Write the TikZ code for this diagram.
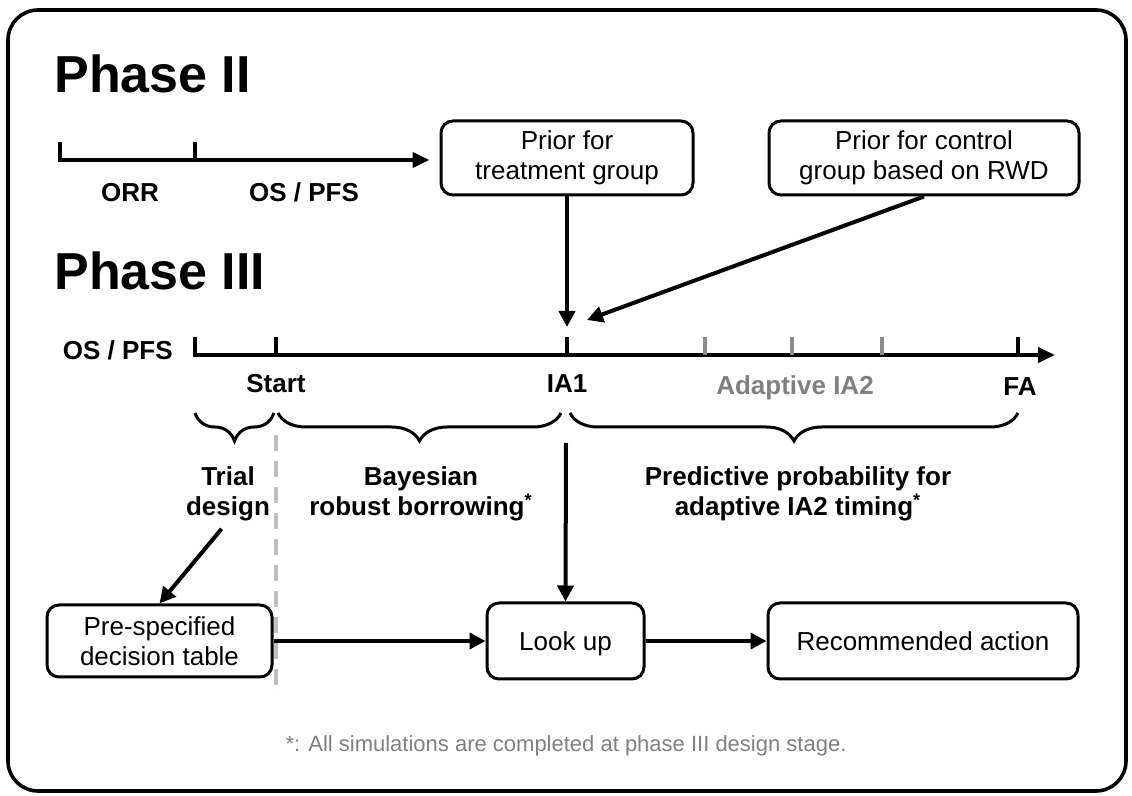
\documentclass[tikz,border=0pt]{standalone}
\usepackage{fontspec}
\setmainfont{Liberation Sans}
\usepackage{tikz}
\usetikzlibrary{arrows.meta, positioning, decorations.pathreplacing, calc}
\definecolor{trait}{HTML}{000000}
\definecolor{grisaxe}{HTML}{8C8C8C}
\definecolor{grisnote}{HTML}{808080}
\definecolor{grispointille}{HTML}{BFBFBF}
\tikzset{
  bloc/.style={rectangle, rounded corners=6pt, draw=trait, line width=1.5pt,
    fill=white, font=\fontsize{13}{15}\selectfont, align=center,
    minimum height=37pt, inner sep=0pt},
  blocligne/.style={bloc, text depth=0pt},
  fleche/.style={-{Triangle[length=8pt, width=8pt]}, line width=2pt, color=trait},
  axe/.style={line width=2pt, color=trait},
  graduation/.style={line width=2pt},
  titre/.style={font=\fontsize{26}{30}\selectfont\bfseries, anchor=base west,
    inner sep=0pt},
  etiquette/.style={font=\fontsize{13}{15}\selectfont\bfseries, inner sep=0pt,
    align=center},
  accolade/.style={decorate, decoration={brace, mirror, amplitude=14pt},
    line width=1.5pt},
  note/.style={font=\fontsize{11}{13}\selectfont, color=grisnote, inner sep=0pt}
}
\begin{document}
\begin{tikzpicture}[x=0.5pt, y=-0.5pt]
  \useasboundingbox (0,0) rectangle (1132,796);
  % Cadre
  \draw[line width=1.8pt, rounded corners=15pt] (8,10) rectangle (1126,791);

  % Phase II
  \node[titre] (titre2) at (54,93) {Phase II};
  \coordinate (p0) at (60,160);
  \coordinate (p1) at (195,160);
  \node[bloc, minimum width=126pt] (trt) at (567,158) {Prior for\\treatment group};
  \node[bloc, minimum width=155pt] (ctl) at (924,158) {Prior for control\\group based on RWD};
  \draw[axe, -{Triangle[length=8.5pt, width=7.5pt]}, shorten >=5pt]
    (p0) ++(0,-18) -- (p0) -- (p0 -| trt.west);
  \draw[graduation] (p1) -- ++(0,-18);
  \node[etiquette, anchor=base] (orr) at (130,202) {ORR};
  \node[etiquette, anchor=base] (survie2) at (304,202) {OS / PFS};

  % Phase III
  \node[titre] (titre3) at (54,290) {Phase III};
  \node[etiquette, anchor=base east] (critere) at (173,360) {OS / PFS};
  \coordinate (t0) at (195,355);
  \coordinate (tstart) at (276,355);
  \coordinate (tia1) at (567,355);
  \coordinate (g1) at (705,355);
  \coordinate (g2) at (792,355);
  \coordinate (g3) at (882,355);
  \coordinate (tfa) at (1018,355);
  \coordinate (tfin) at (1055,355);
  \draw[axe, -{Triangle[length=8.5pt, width=7.5pt]}] (t0) ++(0,-18) -- (t0) -- (tfin);
  \foreach \t in {tstart, tia1, tfa} { \draw[graduation] (\t) -- ++(0,-18); }
  \foreach \t in {g1, g2, g3} { \draw[graduation, grisaxe] (\t) -- ++(0,-18); }
  \node[etiquette, anchor=base] (start) at (276,393) {Start};
  \node[etiquette, anchor=base] (ia1) at (567,393) {IA1};
  \node[etiquette, anchor=base, text=grisnote] (ia2) at (795,395) {Adaptive IA2};
  \node[etiquette, anchor=base] (fa) at (1020,396) {FA};

  % Priors vers IA1
  \coordinate (cible1) at (567,327);
  \coordinate (cible2) at (587,320);
  \draw[fleche] (trt.south) -- (cible1);
  \draw[fleche] (ctl.south) -- (cible2);

  % Accolades
  \draw[accolade] (195,413) -- (274,413);
  \draw[accolade] (278,413) -- (561,413);
  \draw[accolade] (570,413) -- (1018,413);
  \node[etiquette, anchor=north] (essai) at (228,466) {Trial\\design};
  \node[etiquette, anchor=north] (bayes) at (421,466) {Bayesian\\robust borrowing\textsuperscript{*}};
  \node[etiquette, anchor=north] (predictive) at (798,466) {Predictive probability for\\adaptive IA2 timing\textsuperscript{*}};
  \draw[grispointille, line width=2pt, dash pattern=on 8pt off 5pt] (276,435) -- (276,695);

  % Decision
  \node[bloc, minimum width=112.5pt, minimum height=36pt] (table) at (159.5,641) {Pre-specified\\decision table};
  \node[blocligne, minimum width=78.5pt, minimum height=38pt] (consult) at (565.5,641) {Look up};
  \node[blocligne, minimum width=155pt, minimum height=38pt] (action) at (923,641) {Recommended action};
  \coordinate (depart) at (566,443);
  \draw[fleche] (depart) -- (consult.north);
  \draw[fleche, shorten <=5pt] (essai.south) -- (table.north);
  \draw[fleche] (table.east) -- (consult.west);
  \draw[fleche] (consult.east) -- (action.west);

  \node[note, anchor=base] (renvoi) at (566,752) {*: All simulations are completed at phase III design stage.};
\end{tikzpicture}
\end{document}
